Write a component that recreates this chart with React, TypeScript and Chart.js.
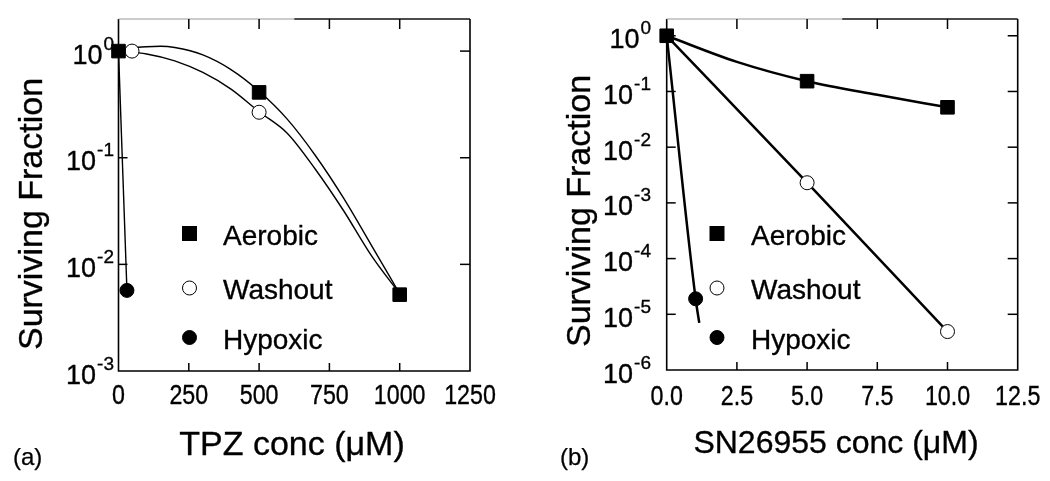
import React, { useEffect, useRef } from 'react';
import { Chart, registerables } from 'chart.js';

Chart.register(...registerables);

// ---------- shared ----------
const seriesNames = ['Aerobic', 'Washout', 'Hypoxic'];
const yAxisTitle = 'Surviving Fraction';

// ---------- panel (a): TPZ ----------
const tpzAerobicX = [0, 500, 1000];
const tpzAerobicY = [1.0, 0.41, 0.0052];
const tpzWashoutX = [48, 500];
const tpzWashoutY = [1.0, 0.267];
const tpzHypoxicX = [30];
const tpzHypoxicY = [0.0057];
const tpzAerobicFitX = [0, 50, 100, 150, 200, 300, 400, 500, 600, 700, 800, 900, 1000];
const tpzAerobicFitY = [1.0, 1.07, 1.1, 1.11, 1.08, 0.92, 0.67, 0.42, 0.23, 0.105, 0.042, 0.015, 0.0053];
const tpzWashoutFitX = [0, 100, 200, 300, 400, 500, 600, 700, 800, 900, 1000];
const tpzWashoutFitY = [1.0, 0.94, 0.81, 0.63, 0.44, 0.27, 0.17, 0.078, 0.032, 0.012, 0.0053];
const tpzHypoxicFitX = [0, 30];
const tpzHypoxicFitY = [1.0, 0.0057];
const tpzXTicks = [0, 250, 500, 750, 1000, 1250];
const tpzXTickLabels = ['0', '250', '500', '750', '1000', '1250'];
const tpzYExponents = [0, -1, -2, -3];
const tpzXTitle = 'TPZ conc (\u03bcM)';
const tpzPanelLabel = '(a)';

// ---------- panel (b): SN26955 ----------
const snAerobicX = [0, 5, 10];
const snAerobicY = [1.0, 0.153, 0.052];
const snWashoutX = [5, 10];
const snWashoutY = [0.0023, 4.9e-6];
const snHypoxicX = [1.03];
const snHypoxicY = [1.9e-5];
const snAerobicFitX = [0, 2.5, 5, 7.5, 10];
const snAerobicFitY = [1.0, 0.34, 0.153, 0.087, 0.052];
const snWashoutFitX = [0, 5, 10];
const snWashoutFitY = [1.0, 0.0023, 4.9e-6];
const snHypoxicFitX = [0, 1.03, 1.16];
const snHypoxicFitY = [1.0, 1.9e-5, 7e-6];
const snXTicks = [0, 2.5, 5, 7.5, 10, 12.5];
const snXTickLabels = ['0.0', '2.5', '5.0', '7.5', '10.0', '12.5'];
const snYExponents = [0, -1, -2, -3, -4, -5, -6];
const snXTitle = 'SN26955 conc (\u03bcM)';
const snPanelLabel = '(b)';

const FONT = '"Liberation Sans", Arial, Helvetica, sans-serif';

const pts = (xs: number[], ys: number[]) => xs.map((x, i) => ({ x, y: ys[i] }));

type PanelCfg = {
  width: number;
  padding: { left: number; right: number; top: number; bottom: number };
  xMin: number;
  xMax: number;
  yMin: number;
  yMax: number;
  xTicks: number[];
  xTickLabels: string[];
  yExps: number[];
  xTitle: string;
  xTitleSize: number;
  panelLabel: string;
  lineWidth: number;
  yLabelRight: number;
  xTickBaseline: number;
  yTitleBaselineX: number;
  yTitleCenterY: number;
  xTitleCenterX: number;
  xTitleBaseline: number;
  panelLabelX: number;
  legendMarkerX: number;
  legendTextX: number;
  markerXs: { aer: number[]; aerY: number[]; wash: number[]; washY: number[]; hyp: number[]; hypY: number[] };
  fits: { x: number[]; y: number[] }[];
};

function line(ctx: CanvasRenderingContext2D, x1: number, y1: number, x2: number, y2: number) {
  ctx.beginPath();
  ctx.moveTo(x1, y1);
  ctx.lineTo(x2, y2);
  ctx.stroke();
}

// filled text with a hairline stroke to mimic the slightly heavier original print
function txt(ctx: CanvasRenderingContext2D, s: string, x: number, y: number) {
  ctx.fillText(s, x, y);
  ctx.strokeText(s, x, y);
}

function drawMarker(ctx: CanvasRenderingContext2D, kind: number, x: number, y: number) {
  ctx.save();
  ctx.fillStyle = kind === 1 ? '#fff' : '#000';
  ctx.strokeStyle = '#000';
  ctx.lineWidth = 1;
  if (kind === 0) {
    ctx.fillRect(x - 7.5, y - 7.5, 15, 15);
  } else {
    ctx.beginPath();
    ctx.arc(x, y, 7, 0, Math.PI * 2);
    ctx.fill();
    ctx.stroke();
  }
  ctx.restore();
}

function makePlugin(cfg: PanelCfg) {
  return {
    id: 'decor',
    beforeDatasetsDraw(chart: any) {
      const { ctx, chartArea: a, scales } = chart;
      const xs = scales.x;
      const ys = scales.y;
      ctx.save();
      ctx.strokeStyle = '#000';
      ctx.lineWidth = 1.6;
      ctx.beginPath();
      ctx.moveTo(a.left, a.top);
      ctx.lineTo(a.left, a.bottom);
      ctx.lineTo(a.right, a.bottom);
      ctx.lineTo(a.right, a.top);
      ctx.stroke();
      const mid = a.left + (a.right - a.left) * 0.5;
      ctx.strokeStyle = '#9a9a9a';
      ctx.lineWidth = 1.2;
      line(ctx, a.left, a.top, mid, a.top);
      ctx.strokeStyle = '#111';
      ctx.lineWidth = 1.5;
      line(ctx, mid, a.top, a.right, a.top);
      ctx.strokeStyle = '#000';
      ctx.lineWidth = 1.5;
      cfg.xTicks.forEach((v) => {
        const px = xs.getPixelForValue(v);
        if (px <= a.left + 1 || px >= a.right - 1) return;
        line(ctx, px, a.bottom, px, a.bottom - 8);
        line(ctx, px, a.top, px, a.top + 10);
      });
      cfg.yExps.forEach((e) => {
        const py = ys.getPixelForValue(Math.pow(10, e));
        if (py >= a.bottom - 1 || py <= a.top + 1) return;
        line(ctx, a.left, py, a.left + 9, py);
        line(ctx, a.right, py, a.right - 10, py);
      });
      ctx.restore();
    },
    afterDraw(chart: any) {
      const { ctx, scales } = chart;
      const xs = scales.x;
      const ys = scales.y;
      ctx.save();
      ctx.fillStyle = '#000';
      ctx.strokeStyle = '#000';
      ctx.lineWidth = 0.35;
      ctx.lineJoin = 'round';
      // x tick labels (condensed)
      ctx.font = `27px ${FONT}`;
      ctx.textBaseline = 'alphabetic';
      ctx.textAlign = 'center';
      cfg.xTicks.forEach((v, i) => {
        const px = xs.getPixelForValue(v);
        ctx.save();
        ctx.translate(px, cfg.xTickBaseline);
        ctx.scale(0.86, 1);
        txt(ctx, cfg.xTickLabels[i], 0, 0);
        ctx.restore();
      });
      // y tick labels 10^e
      cfg.yExps.forEach((e) => {
        const py = ys.getPixelForValue(Math.pow(10, e));
        const sup = e === 0 ? '0' : '-' + String(Math.abs(e));
        ctx.font = `19px ${FONT}`;
        const wSup = ctx.measureText(sup).width;
        ctx.font = `27px ${FONT}`;
        const wMain = ctx.measureText('10').width;
        const right = cfg.yLabelRight;
        ctx.textAlign = 'left';
        txt(ctx, '10', right - wSup - 1 - wMain, py + 12.5);
        ctx.font = `19px ${FONT}`;
        txt(ctx, sup, right - wSup, py - 1.5);
      });
      // y title
      ctx.save();
      ctx.font = `34px ${FONT}`;
      ctx.textAlign = 'center';
      ctx.translate(cfg.yTitleBaselineX, cfg.yTitleCenterY);
      ctx.rotate(-Math.PI / 2);
      txt(ctx, yAxisTitle, 0, 0);
      ctx.restore();
      // x title
      ctx.font = `${cfg.xTitleSize}px ${FONT}`;
      ctx.textAlign = 'center';
      txt(ctx, cfg.xTitle, cfg.xTitleCenterX, cfg.xTitleBaseline);
      // panel label
      ctx.font = `24px ${FONT}`;
      ctx.textAlign = 'left';
      ctx.lineWidth = 0.25;
      txt(ctx, cfg.panelLabel, cfg.panelLabelX, 465);
      // legend
      const markerYs = [233.5, 288, 337.5];
      const textBase = [245, 298.5, 348.5];
      seriesNames.forEach((name, i) => {
        drawMarker(ctx, i, cfg.legendMarkerX, markerYs[i]);
        ctx.fillStyle = '#000';
        ctx.strokeStyle = '#000';
        ctx.lineWidth = 0.35;
        ctx.font = `28px ${FONT}`;
        ctx.textAlign = 'left';
        txt(ctx, name, cfg.legendTextX, textBase[i]);
      });
      ctx.restore();
    },
  };
}

function buildConfig(cfg: PanelCfg) {
  const m = cfg.markerXs;
  const fitSets = cfg.fits.map((f) => ({
    data: pts(f.x, f.y),
    showLine: true,
    borderColor: '#000',
    borderWidth: cfg.lineWidth,
    pointRadius: 0,
    cubicInterpolationMode: 'monotone' as const,
    fill: false,
    clip: false as any,
    order: 2,
  }));
  const markerSets = [
    {
      data: pts(m.aer, m.aerY),
      showLine: false,
      pointStyle: 'rect',
      pointRadius: 9.6,
      pointBackgroundColor: '#000',
      pointBorderColor: '#000',
      pointBorderWidth: 1,
      clip: false as any,
      order: 0,
    },
    {
      data: pts(m.wash, m.washY),
      showLine: false,
      pointStyle: 'circle',
      pointRadius: 7,
      pointBackgroundColor: '#fff',
      pointBorderColor: '#000',
      pointBorderWidth: 1,
      clip: false as any,
      order: 1,
    },
    {
      data: pts(m.hyp, m.hypY),
      showLine: false,
      pointStyle: 'circle',
      pointRadius: 7,
      pointBackgroundColor: '#000',
      pointBorderColor: '#000',
      pointBorderWidth: 1,
      clip: false as any,
      order: 0,
    },
  ];
  return {
    type: 'line' as const,
    data: { datasets: [...markerSets, ...fitSets] as any[] },
    options: {
      animation: false as const,
      responsive: false,
      maintainAspectRatio: false,
      devicePixelRatio: 1,
      layout: { padding: cfg.padding },
      plugins: { legend: { display: false }, tooltip: { enabled: false }, title: { display: false } },
      scales: {
        x: { type: 'linear' as const, min: cfg.xMin, max: cfg.xMax, display: false },
        y: { type: 'logarithmic' as const, min: cfg.yMin, max: cfg.yMax, display: false },
      },
    },
    plugins: [makePlugin(cfg)],
  };
}

const cfgA: PanelCfg = {
  width: 520,
  padding: { left: 118.5, right: 50, top: 19, bottom: 110 },
  xMin: 0,
  xMax: 1250,
  yMin: 0.001,
  yMax: 2,
  xTicks: tpzXTicks,
  xTickLabels: tpzXTickLabels,
  yExps: tpzYExponents,
  xTitle: tpzXTitle,
  xTitleSize: 34,
  panelLabel: tpzPanelLabel,
  lineWidth: 1.4,
  yLabelRight: 114,
  xTickBaseline: 404,
  yTitleBaselineX: 41.5,
  yTitleCenterY: 214,
  xTitleCenterX: 292,
  xTitleBaseline: 455,
  panelLabelX: 13,
  legendMarkerX: 189.5,
  legendTextX: 223,
  markerXs: {
    aer: tpzAerobicX, aerY: tpzAerobicY,
    wash: tpzWashoutX, washY: tpzWashoutY,
    hyp: tpzHypoxicX, hypY: tpzHypoxicY,
  },
  fits: [
    { x: tpzAerobicFitX, y: tpzAerobicFitY },
    { x: tpzWashoutFitX, y: tpzWashoutFitY },
    { x: tpzHypoxicFitX, y: tpzHypoxicFitY },
  ],
};

const cfgB: PanelCfg = {
  width: 530,
  padding: { left: 146.7, right: 32.3, top: 19, bottom: 111 },
  xMin: 0,
  xMax: 12.5,
  yMin: 1e-6,
  yMax: 2,
  xTicks: snXTicks,
  xTickLabels: snXTickLabels,
  yExps: snYExponents,
  xTitle: snXTitle,
  xTitleSize: 32,
  panelLabel: snPanelLabel,
  lineWidth: 2.5,
  yLabelRight: 131,
  xTickBaseline: 405,
  yTitleBaselineX: 70,
  yTitleCenterY: 211,
  xTitleCenterX: 316,
  xTitleBaseline: 453,
  panelLabelX: 40,
  legendMarkerX: 197,
  legendTextX: 231,
  markerXs: {
    aer: snAerobicX, aerY: snAerobicY,
    wash: snWashoutX, washY: snWashoutY,
    hyp: snHypoxicX, hypY: snHypoxicY,
  },
  fits: [
    { x: snAerobicFitX, y: snAerobicFitY },
    { x: snWashoutFitX, y: snWashoutFitY },
    { x: snHypoxicFitX, y: snHypoxicFitY },
  ],
};

function Panel({ cfg, left }: { cfg: PanelCfg; left: number }) {
  const ref = useRef<HTMLCanvasElement | null>(null);
  useEffect(() => {
    if (!ref.current) return;
    const chart = new Chart(ref.current, buildConfig(cfg) as any);
    return () => chart.destroy();
  }, [cfg]);
  return (
    <canvas
      ref={ref}
      width={cfg.width}
      height={481}
      style={{ position: 'absolute', left, top: 0, width: cfg.width, height: 481 }}
    />
  );
}

export default function App() {
  return (
    <div style={{ position: 'absolute', left: 0, top: 0, width: 1050, height: 481, background: '#fff' }}>
      <Panel cfg={cfgA} left={0} />
      <Panel cfg={cfgB} left={520} />
    </div>
  );
}
